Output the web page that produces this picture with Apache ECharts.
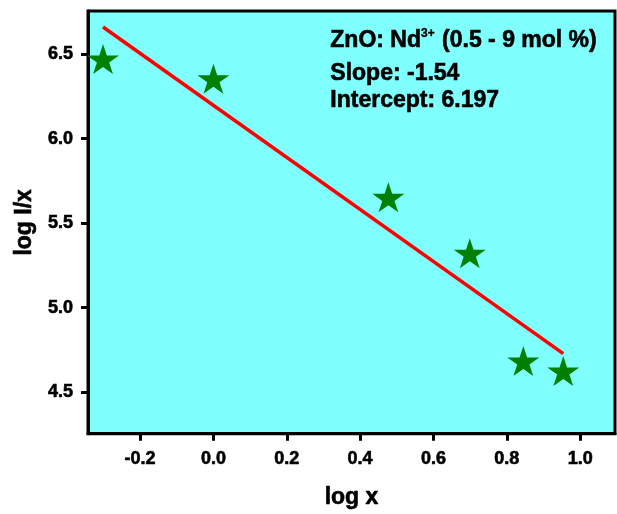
<!DOCTYPE html>
<html><head><meta charset="utf-8">
<script src="https://cdn.jsdelivr.net/npm/echarts@6/dist/echarts.min.js"></script>
<style>html,body{margin:0;padding:0;background:#fff}#c{width:617px;height:514px}</style>
</head><body><div id="c"></div>
<script>
// data
const logX = [-0.301, 0.0, 0.477, 0.699, 0.845, 0.954];
const logIx = [6.463, 6.346, 5.644, 5.313, 4.675, 4.616];
const fitX = [-0.301, 0.954];
const fitY = [6.661, 4.728];
const xTicks = [-0.2, 0.0, 0.2, 0.4, 0.6, 0.8, 1.0];
const yTicks = [4.5, 5.0, 5.5, 6.0, 6.5];
const xName = 'log x';
const yName = 'log I/x';
const noteTitle = ['ZnO: Nd', '3+', ' (0.5 - 9 mol %)'];
const noteLines = ['Slope: -1.54', 'Intercept: 6.197'];

const FONT = '"Liberation Sans", Arial, sans-serif';
const STAR = 'path://M0,-100 L22.45,-30.9 L95.1,-30.9 L36.33,11.8 L58.78,80.9 L0,38.2 L-58.78,80.9 L-36.33,11.8 L-95.1,-30.9 L-22.45,-30.9 Z';
const txt = (size) => ({fontFamily: FONT, fontWeight: 'bold', fontSize: size, color: '#000',
                        textBorderColor: '#000', textBorderWidth: 0.6});

const chart = echarts.init(document.getElementById('c'), null, {renderer: 'canvas'});
chart.setOption({
  animation: false,
  grid: {left: 88, top: 11, width: 527, height: 427, show: true,
         backgroundColor: '#80FFFF', borderColor: '#000', borderWidth: 3},
  xAxis: {
    type: 'value', min: -0.342, max: 1.095,
    name: xName, nameLocation: 'middle', nameGap: 52,
    nameTextStyle: txt(23),
    axisLine: {show: true, onZero: false, lineStyle: {color: '#000', width: 3}},
    axisTick: {show: true, length: 7, lineStyle: {color: '#000', width: 3}, customValues: xTicks},
    axisLabel: Object.assign({customValues: xTicks, margin: 16, formatter: v => v.toFixed(1)}, txt(18)),
    splitLine: {show: false}
  },
  yAxis: {
    type: 'value', min: 4.254, max: 6.756,
    name: yName, nameLocation: 'middle', nameGap: 50, nameRotate: 90,
    nameTextStyle: txt(23),
    axisLine: {show: true, onZero: false, lineStyle: {color: '#000', width: 3}},
    axisTick: {show: true, length: 7, lineStyle: {color: '#000', width: 3}, customValues: yTicks},
    axisLabel: Object.assign({customValues: yTicks, margin: 15, formatter: v => v.toFixed(1)}, txt(18)),
    splitLine: {show: false}
  },
  series: [
    {type: 'line', data: fitX.map((x, i) => [x, fitY[i]]), symbol: 'none',
     lineStyle: {color: '#FF0000', width: 3.5}, z: 2},
    {type: 'scatter', data: logX.map((x, i) => [x, logIx[i]]), symbol: STAR,
     symbolSize: [32, 30], symbolOffset: [0, -1.5],
     itemStyle: {color: '#008000', opacity: 1}, z: 3}
  ],
  graphic: [
    {type: 'text', left: 330, top: 27, z: 10,
     style: {fill: '#000', stroke: '#000', lineWidth: 0.6,
             rich: {a: {fontFamily: FONT, fontWeight: 'bold', fontSize: 23, fill: '#000', lineHeight: 27,
                        stroke: '#000', lineWidth: 0.6},
                    s: {fontFamily: FONT, fontWeight: 'bold', fontSize: 12, fill: '#000', verticalAlign: 'top', lineHeight: 12,
                        padding: [0, 1, 0, 0], stroke: '#000', lineWidth: 0.4}},
             text: '{a|' + noteTitle[0] + '}{s|' + noteTitle[1] + '}{a|' + noteTitle[2] + '}'}},
    {type: 'text', left: 330, top: 60, z: 10,
     style: {text: noteLines.join('\n'), fontFamily: FONT, fontWeight: 'bold', fontSize: 23, lineHeight: 27, fill: '#000',
             stroke: '#000', lineWidth: 0.6}}
  ]
});
</script></body></html>
